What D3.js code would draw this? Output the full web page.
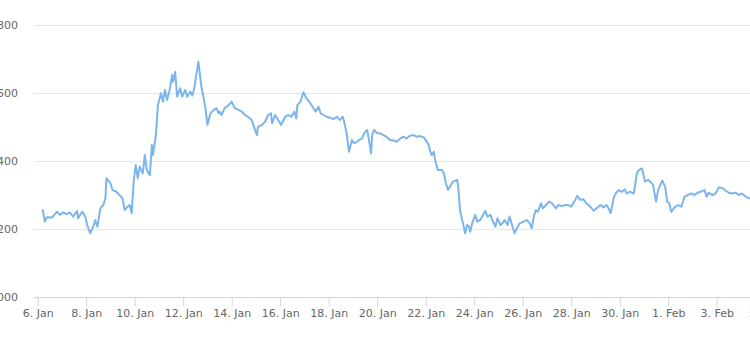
<!DOCTYPE html>
<html>
<head>
<meta charset="utf-8">
<script src="https://cdn.jsdelivr.net/npm/d3@7"></script>
<style>
  html, body { margin: 0; padding: 0; background: #ffffff; overflow: hidden; }
  svg { display: block; }
</style>
</head>
<body>
<svg id="chart" width="750" height="345"></svg>
<script>
// ---- data ----
const startDate = "2018-01-06T00:00:00Z";
// hours elapsed since startDate for every observation
const hours = [5,7,9,14,19,22,25,29,32,35,39,40,44,47,49,52,55,57,59,62,65,67,68,72,74,78,81,84,86,89,91,93,95,97,99,101,104,106,108,111,113,114,117,119,122,124,126,128,131,133,134,136,138,141,143,146,148,151,153,155,157,159,162,164,166,168,171,174,
177,179,180,182,185,189,192,195,199,202,205,208,212,214,217,218,222,225,228,231,232,235,238,241,245,248,251,254,256,257,260,263,266,270,273,275,278,280,283,286,289,293,296,299,302,304,306,308,311,313,316,318,321,323,326,327,330,331,333,336,339,342,345,349,
352,355,359,362,365,368,372,375,378,382,384,387,388,390,392,393,395,396,400,402,404,406,409,411,415,416,418,420,421,423,425,427,428,430,433,435,438,440,443,445,448,450,453,455,458,460,462,465,467,470,472,475,477,481,484,487,489,491,493,495,498,500,503,506,509,513,515,519,522,
525,528,532,534,537,540,543,547,550,553,557,560,563,565,567,570,572,575,578,581,583,586,590,591,593,595,598,601,604,607,609,612,614,618,621,623,625,627,631,634,637,640,643,647,650,653,656,660,662,664,668,671,674,678,681,684,687,691,694,697,701,704,707];
const prices = [1255,1221,1234,1233,1250,1241,1248,1243,1248,1236,1252,1231,1250,1236,1211,1187,1206,1226,1206,1260,1270,1290,1349,1334,1314,1309,1299,1290,1255,1265,1270,1246,1339,1388,1349,1383,1363,1417,1373,1358,1447,1417,1476,1564,1599,1574,1609,1579,1614,1653,1633,1662,1589,1614,1589,1609,1589,1604,1592,1614,1653,1692,1618,1589,1555,1506,1540,1550,
1555,1540,1545,1535,1555,1564,1574,1555,1550,1545,1535,1530,1520,1500,1476,1500,1506,1515,1535,1540,1511,1535,1520,1506,1530,1535,1530,1545,1525,1564,1574,1602,1584,1569,1555,1545,1559,1540,1535,1530,1527,1523,1530,1520,1530,1506,1476,1427,1461,1452,1456,1461,1466,1481,1491,1476,1422,1476,1491,1481,1481,1476,1471,1461,
1461,1456,1466,1471,1466,1473,1476,1471,1473,1469,1461,1447,1432,1417,1427,1407,1383,1373,1373,1363,1334,1314,1329,1339,1344,1329,1255,1226,1216,1187,1211,1206,1191,1216,1241,1221,1226,1236,1253,1236,1241,1226,1206,1231,1211,1216,1226,1211,1236,1206,1187,1206,1216,1221,1226,1216,1201,1236,1255,1250,1275,1260,1270,1280,1275,1260,1270,1267,1270,
1270,1265,1285,1297,1285,1287,1275,1265,1253,1260,1270,1263,1270,1260,1246,1290,1304,1314,1309,1316,1304,1309,1304,1324,1363,1373,1378,1339,1344,1336,1329,1280,1314,1342,1324,1280,1275,1250,1265,1270,1265,1294,1299,1304,1299,1306,1309,1314,1294,1306,1299,1304,1322,1319,1312,1306,1304,1306,1299,1304,1294,1290,1288];
const yTicks = [1000, 1200, 1400, 1600, 1800];
const xTickDates = ["2018-01-06","2018-01-08","2018-01-10","2018-01-12","2018-01-14","2018-01-16","2018-01-18","2018-01-20","2018-01-22","2018-01-24","2018-01-26","2018-01-28","2018-01-30","2018-02-01","2018-02-03","2018-02-05"];

// ---- chart ----
const svg = d3.select("#chart");
const W = 750, H = 345;
const t0 = new Date(startDate);
const data = hours.map((h, i) => ({ date: d3.utcHour.offset(t0, h), value: prices[i] }));
const ticks = xTickDates.map(s => new Date(s + "T00:00:00Z"));

const x = d3.scaleUtc()
  .domain([new Date("2018-01-06T00:00:00Z"), new Date("2018-02-03T00:00:00Z")])
  .range([37.7, 716.7]);
const y = d3.scaleLinear().domain([1000, 1800]).range([296.7, 25]);

const plotLeft = 34;
const fontFamily = "'DejaVu Sans', sans-serif";

// grid
const grid = svg.append("g");
grid.selectAll("line").data(yTicks).join("line")
  .attr("x1", plotLeft).attr("x2", W)
  .attr("y1", d => Math.round(y(d)) + 0.5).attr("y2", d => Math.round(y(d)) + 0.5)
  .attr("stroke", "#e6e6e6").attr("stroke-width", 1);

// y labels
svg.append("g").selectAll("text").data(yTicks).join("text")
  .attr("x", 18).attr("y", d => y(d) + 4)
  .attr("text-anchor", "end")
  .attr("font-family", fontFamily).attr("font-size", 11).attr("fill", "#666666")
  .text(d => d3.format("d")(d));

// x axis
const xAxis = d3.axisBottom(x).tickValues(ticks).tickFormat(d3.utcFormat("%-d. %b")).tickSize(9).tickSizeOuter(0);
const gx = svg.append("g").attr("transform", `translate(0,${Math.round(y(1000)) + 0.5})`).call(xAxis);
gx.select(".domain").remove();
gx.append("line").attr("x1", plotLeft).attr("x2", W).attr("y1", 0).attr("y2", 0)
  .attr("stroke", "#ccd6eb").attr("stroke-width", 1);
gx.selectAll(".tick line").attr("stroke", "#ccd6eb");
gx.selectAll(".tick text")
  .attr("font-family", fontFamily).attr("font-size", 11).attr("fill", "#666666").attr("dy", "0.71em").attr("y", 12);

// line
const line = d3.line().x(d => x(d.date)).y(d => y(d.value)).curve(d3.curveLinear);
svg.append("path").datum(data)
  .attr("d", line)
  .attr("fill", "none")
  .attr("stroke", "#7cb5ec")
  .attr("stroke-width", 2)
  .attr("stroke-linejoin", "round")
  .attr("stroke-linecap", "round");
</script>
</body>
</html>
